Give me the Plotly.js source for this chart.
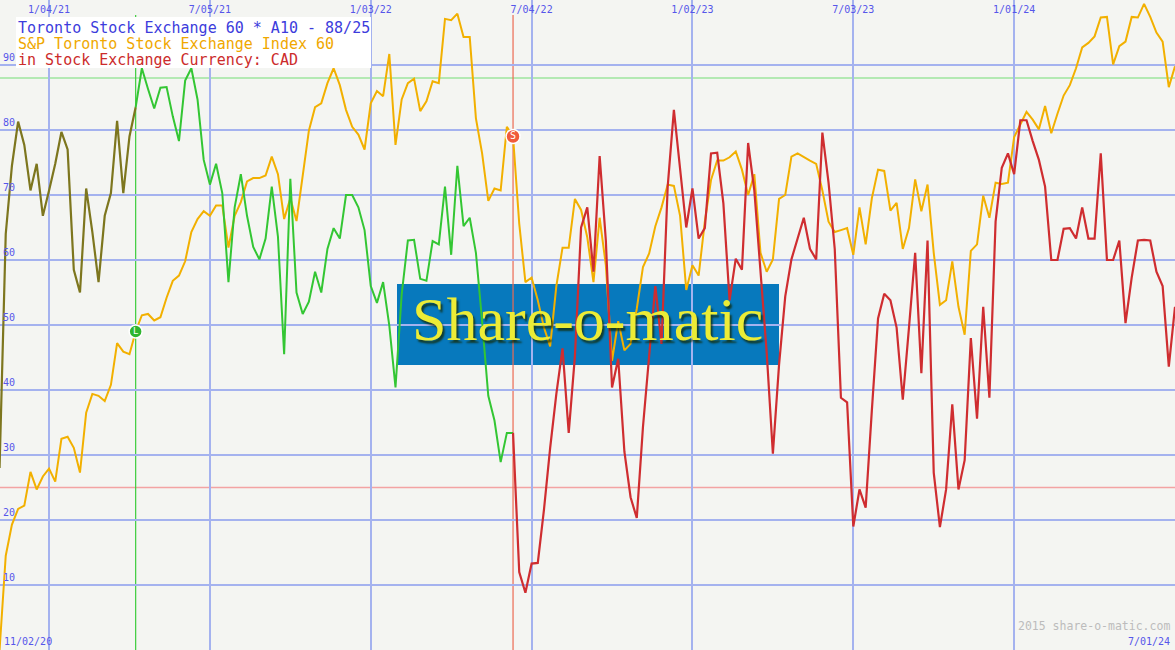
<!DOCTYPE html>
<html>
<head>
<meta charset="utf-8">
<script src="https://cdn.plot.ly/plotly-3.0.1.min.js"></script>
<style>
html,body{margin:0;padding:0;background:#f4f5f2;}
#chart{width:1175px;height:650px;}
</style>
</head>
<body>
<div id="chart"></div>
<script>
// ---- data (weekly, first week 2020-11-09) ----
const firstWeek = '2020-11-09';
const indexValues = [
  0, 14.5, 19.3, 21.7, 22.2, 27.4, 24.7, 26.7, 27.9, 25.9,
  32.5, 32.8, 31.1, 27.3, 36.5, 39.4, 39.1, 38.3, 40.8, 47.2,
  45.9, 45.5, 49, 51.5, 51.7, 50.7, 51.2, 54.2, 56.8, 57.6,
  59.8, 64.3, 66.3, 67.5, 66.8, 68.4, 68.4, 61.9, 66.8, 68.9,
  72.1, 72.6, 72.6, 73, 75.9, 73.2, 66.3, 69.5, 66, 73.2,
  79.9, 83.5, 84.1, 87.2, 89.5, 86.9, 83.1, 80.5, 79.3, 77,
  84.1, 86, 85.2, 91.7, 77.7, 84.7, 87.2, 87.9, 82.9, 84.4,
  87.5, 87.2, 97.1, 96.9, 97.9, 94.3, 94.3, 81.8, 76.4, 69.1,
  71, 70.7, 80.5, 79, 65.6, 56.6, 57.3, 53.8, 49.6, 46.7,
  56, 61.9, 61.9, 69.4, 67.7, 63.5, 56.6, 66.5, 59.2, 44.5,
  50.6, 46.1, 47.1, 52.5, 58.9, 61, 65.2, 68.1, 71.6, 71.4,
  66.8, 55.4, 59.2, 57.6, 65.9, 72.3, 75.3, 75.3, 75.8, 76.7,
  73.9, 70, 73.2, 61.1, 58.2, 60.1, 69.4, 70, 75.9, 76.4,
  75.8, 75.3, 74.8, 70.7, 65.9, 64.3, 64.6, 64.9, 60.8, 68.1,
  62.4, 69.5, 73.9, 73.7, 67.6, 68.8, 61.7, 64.9, 72.4, 67.5,
  71.6, 61.1, 53.1, 53.8, 59.8, 52.8, 48.5, 61.4, 62.4, 69.9,
  66.5, 71.9, 71.7, 71.9, 78.9, 80.9, 82.8, 81.6, 80.1, 83.7,
  79.5, 82.5, 85.3, 86.9, 89.5, 92.7, 93.4, 94.4, 97.3, 97.4,
  90.1, 92.9, 93.6, 97.4, 97.3, 99.4, 97.4, 95, 93.6, 86.6,
  89.8
];
const oscillator = [
  28, 64, 74.5, 81.3, 77.7, 70.7, 74.8, 66.8, 70.7, 74.8,
  79.7, 77, 58.5, 55, 71, 64.3, 56.6, 66.8, 70.3, 81.4,
  70.3, 79, 83.5, 89.5, 86.3, 83.3, 86.5, 86.6, 82.1, 78.3,
  87.6, 89.5, 84.7, 75.4, 71.6, 74.8, 70.3, 56.6, 68.1, 73.2,
  66.8, 62, 60.1, 63.3, 71.3, 63.6, 45.5, 72.5, 55, 51.7,
  53.6, 58.2, 55, 61.7, 64.9, 63.3, 70, 70, 68.1, 64.6,
  56, 53.4, 56.6, 49.9, 40.4, 54.7, 63, 63.1, 57.1, 56.8,
  62.9, 62.4, 71.3, 60.8, 74.5, 65.2, 66.5, 61.1, 50.6, 39.1,
  35.3, 28.9, 33.4, 33.4, 12, 8.8, 13.3, 13.4, 21.6, 31.1,
  39.4, 46.4, 33.4, 45.2, 65, 68.1, 58.2, 76, 63, 40.4,
  44.8, 30.5, 23.5, 20.3, 34.3, 45.2, 56, 47.1, 71.3, 83.1,
  73.9, 65, 71, 63.3, 64.9, 76.4, 76.5, 68.7, 53.8, 60.2,
  58.5, 78, 70.7, 57.9, 45.8, 30.2, 43.9, 54.4, 60.1, 63.3,
  66.5, 61.7, 60.1, 79.6, 71.9, 61.7, 38.8, 38.1, 19, 24.7,
  21.9, 36.9, 51, 54.8, 53.8, 49.6, 38.5, 49.6, 61.1, 42.6,
  63, 27.3, 18.9, 24.7, 37.8, 24.7, 29.2, 48, 35.6, 52.8,
  38.8, 65.9, 74.2, 76.4, 73.2, 81.5, 81.5, 78.3, 75.4, 71.3,
  60, 60, 64.8, 64.9, 63.3, 68.1, 63.3, 63.3, 76.4, 60,
  60, 63, 50.3, 57.3, 63, 63.1, 63, 58.2, 56, 43.6,
  52.8
];
const buyIndex = 22;
const sellIndex = 83;
const upperLevel = 88;
const lowerLevel = 25;
const tickDates = ['2021-01-04','2021-07-05','2022-01-03','2022-07-04','2023-01-02','2023-07-03','2024-01-01'];
const tickLabels = ['1/04/21','7/05/21','1/03/22','7/04/22','1/02/23','7/03/23','1/01/24'];
const yTicks = [10,20,30,40,50,60,70,80,90];
const titleLines = [
  'Toronto Stock Exchange 60 * A10 - 88/25',
  'S&P Toronto Stock Exchange Index 60',
  'in Stock Exchange Currency: CAD'
];
const cornerLabels = ['11/02/20', '7/01/24'];
const creditText = '2015 share-o-matic.com';
const watermarkText = 'Share-o-matic';
const xRange = ['2020-11-09 12:00', '2024-07-01'];

// ---- build ----
const W = 1175, H = 650;
const px = v => v / W;
const py = v => 1 - v / H;
const dates = indexValues.map((_, i) => {
  const t = Date.parse(firstWeek + 'T00:00:00Z') + i * 7 * 86400000;
  return new Date(t).toISOString().slice(0, 10);
});

const bg = '#f4f5f2';
const gridCol = '#a4b2ef';
const tickCol = '#5656ea';
const mono = 'DejaVu Sans Mono, monospace';

const traces = [
  {x: dates, y: indexValues, type: 'scatter', mode: 'lines',
   line: {color: '#f2b000', width: 2}},
  {x: dates.slice(0, buyIndex + 1), y: oscillator.slice(0, buyIndex + 1), type: 'scatter', mode: 'lines',
   line: {color: '#7d761e', width: 2.2}},
  {x: dates.slice(buyIndex, sellIndex + 1), y: oscillator.slice(buyIndex, sellIndex + 1), type: 'scatter', mode: 'lines',
   line: {color: '#33c633', width: 2}},
  {x: dates.slice(sellIndex), y: oscillator.slice(sellIndex), type: 'scatter', mode: 'lines',
   line: {color: '#cf2d30', width: 2.2}},
  {x: [dates[buyIndex]], y: [indexValues[buyIndex]], type: 'scatter', mode: 'markers+text',
   text: ['L'], textposition: 'middle center',
   textfont: {family: mono, size: 9, color: '#ffffff'},
   marker: {size: 13, color: '#2fb52f', line: {color: '#ffffff', width: 1.5}}},
  {x: [dates[sellIndex]], y: [indexValues[sellIndex]], type: 'scatter', mode: 'markers+text',
   text: ['S'], textposition: 'middle center',
   textfont: {family: mono, size: 10, color: '#ffffff'},
   marker: {size: 14, color: '#f05a3c', line: {color: '#ffffff', width: 1.5}}}
];

const shapes = [
  // watermark panel (under the grid)
  {type: 'rect', xref: 'paper', yref: 'paper', layer: 'below',
   x0: px(397), x1: px(779), y0: py(365), y1: py(284),
   fillcolor: '#0779bd', line: {width: 0}},
  // strip hiding gridlines under the top labels
  {type: 'rect', xref: 'paper', yref: 'paper', layer: 'between',
   x0: 0, x1: 1, y0: py(16), y1: 1, fillcolor: bg, line: {width: 0}},
  // threshold levels
  {type: 'line', xref: 'paper', yref: 'y', layer: 'between',
   x0: 0, x1: 1, y0: upperLevel, y1: upperLevel, line: {color: '#9ee59e', width: 1.5}},
  {type: 'line', xref: 'paper', yref: 'y', layer: 'between',
   x0: 0, x1: 1, y0: lowerLevel, y1: lowerLevel, line: {color: '#f3a3a3', width: 1.5}},
  // signal lines
  {type: 'line', xref: 'x', yref: 'paper', layer: 'between',
   x0: dates[buyIndex], x1: dates[buyIndex], y0: 0, y1: py(15), line: {color: '#3ccc3c', width: 1.2}},
  {type: 'line', xref: 'x', yref: 'paper', layer: 'between',
   x0: dates[sellIndex], x1: dates[sellIndex], y0: 0, y1: py(15), line: {color: '#ec6a52', width: 1.2}},
  // title box
  {type: 'rect', xref: 'paper', yref: 'paper', layer: 'above',
   x0: px(16), x1: px(371), y0: py(68), y1: py(17), fillcolor: '#ffffff', line: {width: 0}}
];

const titleColors = ['#3c3cdc', '#f0a800', '#cc2b2b'];
const annotations = titleLines.map((t, k) => ({
  xref: 'paper', yref: 'paper', x: px(16), y: py(28 + 16 * k),
  xanchor: 'left', yanchor: 'middle', showarrow: false, text: t,
  font: {family: mono, size: 15, color: titleColors[k]}
}));
annotations.push(
  {xref: 'paper', yref: 'paper', x: px(587), y: py(319), xanchor: 'center', yanchor: 'middle',
   showarrow: false, text: watermarkText,
   font: {family: 'Liberation Serif, serif', size: 62, color: '#ecec36',
          shadow: '2px 3px 2px rgba(20,40,0,0.75)'}},
  {xref: 'paper', yref: 'paper', x: px(1172), y: py(626), xanchor: 'right', yanchor: 'middle',
   showarrow: false, text: creditText, font: {family: mono, size: 11.5, color: '#bcbcbc'}},
  {xref: 'paper', yref: 'paper', x: px(2), y: py(641), xanchor: 'left', yanchor: 'middle',
   showarrow: false, text: cornerLabels[0], font: {family: mono, size: 10, color: tickCol}},
  {xref: 'paper', yref: 'paper', x: px(1172), y: py(641), xanchor: 'right', yanchor: 'middle',
   showarrow: false, text: cornerLabels[1], font: {family: mono, size: 10, color: tickCol}}
);

const layout = {
  width: W, height: H,
  margin: {l: 0, r: 0, t: 0, b: 0, pad: 0},
  paper_bgcolor: bg, plot_bgcolor: bg,
  showlegend: false, hovermode: false,
  xaxis: {type: 'date', range: xRange, side: 'top',
          tickvals: tickDates, ticktext: tickLabels, ticks: '',
          ticklabelposition: 'inside', ticklabelstandoff: 3,
          showgrid: true, gridcolor: gridCol, gridwidth: 2,
          zeroline: false, showline: false, fixedrange: true,
          tickfont: {family: mono, size: 10, color: tickCol}},
  yaxis: {range: [0, 100], tickvals: yTicks, ticktext: yTicks.map(String), ticks: '',
          ticklabelposition: 'inside', ticklabelshift: -8, ticklabelstandoff: 0,
          showgrid: true, gridcolor: gridCol, gridwidth: 2,
          zeroline: false, showline: false, fixedrange: true,
          tickfont: {family: mono, size: 10, color: tickCol}},
  shapes: shapes,
  annotations: annotations
};

Plotly.newPlot('chart', traces, layout, {displayModeBar: false, staticPlot: true});
</script>
</body>
</html>
